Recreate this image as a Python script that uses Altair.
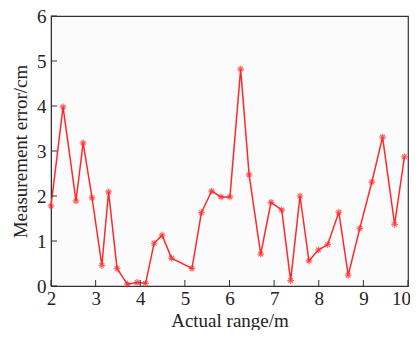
import altair as alt
import pandas as pd

x_vals = [2.00, 2.27, 2.56, 2.72, 2.92, 3.14, 3.29, 3.48, 3.71, 3.93, 4.12, 4.31,
          4.49, 4.70, 5.16, 5.37, 5.60, 5.81, 6.01, 6.25, 6.44, 6.70, 6.93, 7.17,
          7.37, 7.58, 7.78, 7.99, 8.20, 8.45, 8.66, 8.92, 9.19, 9.43, 9.70, 9.92]
y_vals = [1.78, 3.98, 1.89, 3.18, 1.96, 0.46, 2.09, 0.39, 0.04, 0.08, 0.06, 0.95,
          1.13, 0.62, 0.39, 1.63, 2.11, 1.98, 1.98, 4.82, 2.47, 0.71, 1.86, 1.69,
          0.12, 2.00, 0.56, 0.80, 0.92, 1.64, 0.24, 1.28, 2.31, 3.31, 1.37, 2.87]
x_ticks = [2, 3, 4, 5, 6, 7, 8, 9, 10]
y_ticks = [0, 1, 2, 3, 4, 5, 6]

df = pd.DataFrame({"x": x_vals, "y": y_vals})
xt = pd.DataFrame({"t": x_ticks})
yt = pd.DataFrame({"t": y_ticks})

FONT = "Liberation Serif"
xscale = alt.Scale(domain=[2, 10], nice=False, zero=False)
yscale = alt.Scale(domain=[0, 6], nice=False)

base_x = alt.X("x:Q", scale=xscale,
               axis=alt.Axis(title="Actual  range/m", values=x_ticks, format="d",
                             ticks=False, grid=False, domainColor="#333",
                             labelFlush=False,
                             labelOffset={"expr": "datum.value == 10 ? -7 : 0"},
                             labelFont=FONT, labelFontSize=19, labelColor="#222",
                             labelPadding=3, titleFont=FONT, titleFontSize=19,
                             titleFontWeight="normal", titleColor="#222",
                             titlePadding=3))
base_y = alt.Y("y:Q", scale=yscale,
               axis=alt.Axis(title="Measurement  error/cm", values=y_ticks, format="d",
                             ticks=False, grid=False, domainColor="#333",
                             labelFlush=False,
                             labelFont=FONT, labelFontSize=19, labelColor="#222",
                             labelPadding=5, titleFont=FONT, titleFontSize=19,
                             titleFontWeight="normal", titleColor="#222",
                             titlePadding=6))

line = alt.Chart(df).mark_line(color="#ff2a2a", strokeWidth=1.5).encode(x=base_x, y=base_y)
star = "M-1,0L1,0M0,-1L0,1M-0.7,-0.7L0.7,0.7M-0.7,0.7L0.7,-0.7"
pts = alt.Chart(df).mark_point(shape=star, size=45, filled=False, color="#ff2a2a",
                               strokeWidth=1.2).encode(x="x:Q", y="y:Q")

xtick = alt.Chart(xt).mark_rule(color="#333", strokeWidth=1).encode(
    x=alt.X("t:Q", scale=xscale), y=alt.value(270), y2=alt.value(264))
ytick = alt.Chart(yt).mark_rule(color="#333", strokeWidth=1).encode(
    y=alt.Y("t:Q", scale=yscale), x=alt.value(0), x2=alt.value(6))

chart = alt.layer(line, pts, xtick, ytick).properties(
    width=357, height=270,
    autosize=alt.AutoSizeParams(type="none"),
    padding={"left": 43, "top": 8, "right": 2, "bottom": 44},
    background="white",
).configure_view(stroke="#333", strokeWidth=1.2, fill="#fbfbfb")

chart.save("out.html", embed_options={"renderer": "svg", "actions": False})
